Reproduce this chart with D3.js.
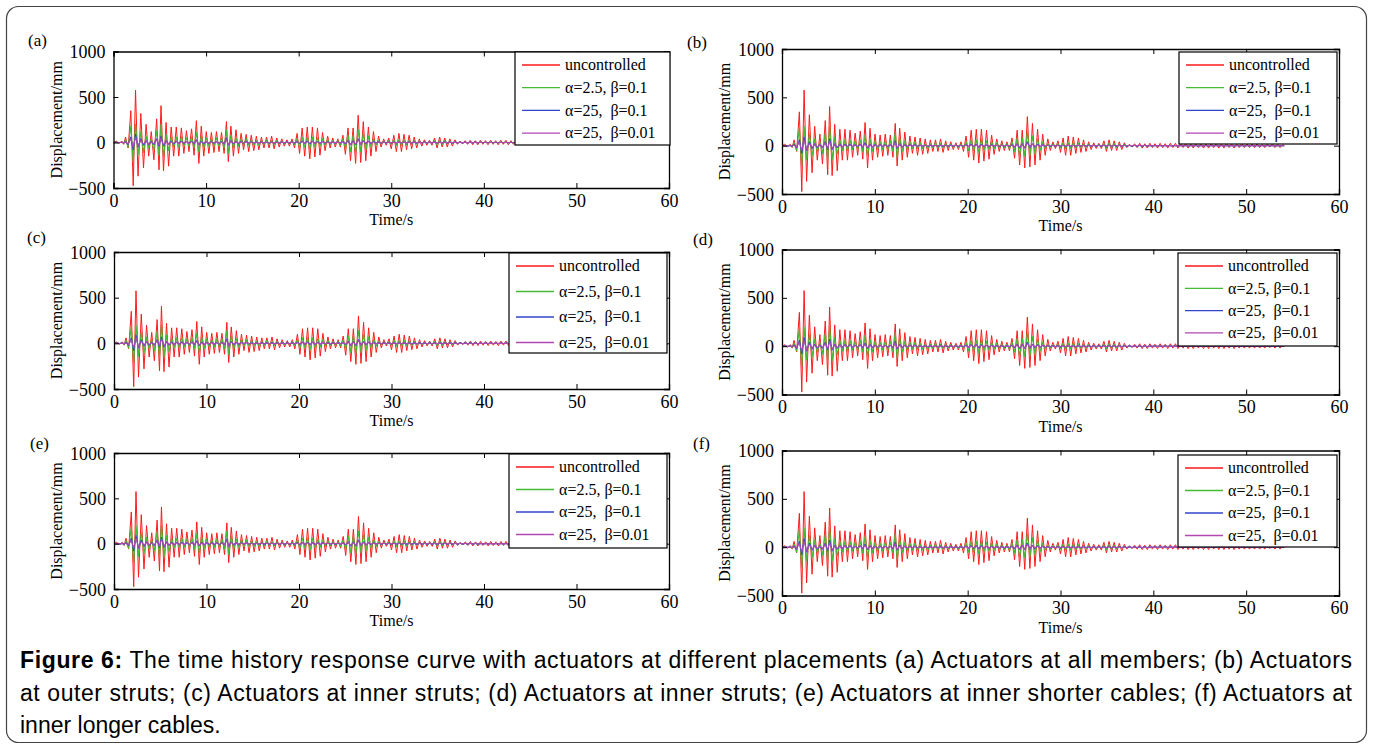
<!DOCTYPE html>
<html>
<head>
<meta charset="utf-8">
<script src="https://cdn.jsdelivr.net/npm/d3@7"></script>
<style>
  body { margin: 0; background: #fff; }
  svg { display: block; }
  text { font-family: "Liberation Serif", "Times New Roman", serif; fill: #000; }
  .caption { font-family: "Liberation Sans", Arial, sans-serif; font-size: 23px; }
</style>
</head>
<body>
<svg id="fig" width="1373" height="749"></svg>
<script>
// times of the successive peaks / troughs, seconds
const times = [
  0, 0.3, 0.6, 0.9, 1.1,
  1.30, 1.58, 1.87, 2.13, 2.38, 2.65, 2.95, 3.24, 3.52, 3.80,
  4.08, 4.36, 4.66, 4.92, 5.13, 5.40, 5.68, 5.95, 6.23, 6.50,
  6.78, 7.05, 7.33, 7.60, 7.88, 8.15, 8.43, 8.70, 8.95, 9.22,
  9.48, 9.75, 10.02, 10.30, 10.57, 10.85, 11.12, 11.40, 11.67, 11.95,
  12.20, 12.40, 12.68, 12.95, 13.23, 13.50, 13.78, 14.05, 14.33, 14.60,
  14.88, 15.15, 15.43, 15.70, 15.98, 16.25, 16.53, 16.80, 17.08, 17.35,
  17.63, 17.90, 18.18, 18.45, 18.73, 19.00, 19.28, 19.55, 19.83, 20.10,
  20.38, 20.65, 20.93, 21.20, 21.48, 21.75, 22.03, 22.30, 22.58, 22.85,
  23.13, 23.40, 23.68, 23.95, 24.23, 24.50, 24.78, 25.05, 25.33, 25.60,
  25.88, 26.15, 26.43, 26.70, 26.98, 27.25, 27.53, 27.80, 28.08, 28.35,
  28.63, 28.90, 29.18, 29.45, 29.73, 30.00, 30.28, 30.55, 30.83, 31.10,
  31.38, 31.65, 31.93, 32.20, 32.48, 32.75, 33.03, 33.30, 33.58, 33.85,
  34.13, 34.40, 34.68, 34.95, 35.23, 35.50, 35.78, 36.05, 36.33, 36.60,
  36.88, 37.15, 37.43, 37.70, 37.98, 38.25, 38.53, 38.80, 39.08, 39.35,
  39.63, 39.90, 40.18, 40.45, 40.73, 41.00, 41.28, 41.55, 41.83, 42.10,
  42.38, 42.65, 42.93, 43.20, 43.48, 43.75, 44.03, 44.30, 44.58, 44.85,
  45.13, 45.40, 45.68, 45.95, 46.23, 46.50, 46.78, 47.05, 47.33, 47.60,
  47.88, 48.15, 48.43, 48.70, 48.98, 49.25, 49.53, 49.80, 50.08, 50.35,
  50.63, 50.90, 51.18, 51.45, 51.73, 52.00, 52.28, 52.55, 52.83, 53.10,
  53.38, 53.65, 53.93, 54.10
];

// displacement (mm) at those times
const uncontrolled = [
  0, 15, -10, 15, -20,
  60, -60, 350, -475, 575, -370, 320, -280, 200, -150,
  120, -190, 260, -300, 405, -310, 220, -260, 170, -150,
  170, -150, 160, -120, 130, -100, 150, -140, 240, -230,
  180, -150, 120, -120, 110, -110, 120, -100, 110, -120,
  230, -210, 180, -150, 140, -120, 100, -80, 90, -100,
  80, -90, 70, -80, 60, -60, 60, -60, 70, -70,
  50, -50, 40, -40, 30, -40, 40, -60, 100, -120,
  160, -150, 170, -180, 170, -160, 160, -140, 110, -90,
  70, -60, 50, -50, 40, -50, 80, -130, 160, -200,
  160, -230, 300, -220, 230, -200, 170, -150, 120, -100,
  70, -50, 40, -30, 50, -70, 80, -100, 100, -100,
  90, -80, 80, -70, 60, -60, 40, -40, 30, -30,
  25, -30, 50, -60, 60, -50, 50, -50, 40, -40,
  30, -20, 15, -15, 20, -20, 25, -25, 20, -25,
  25, -20, 20, -25, 25, -20, 20, -25, 25, -20,
  25, -25, 20, -20, 25, -25, 20, -25, 25, -20,
  25, -25, 20, -25, 25, -20, 25, -25, 20, -25,
  25, -20, 20, -25, 20, -20, 25, -20, 20, -20,
  20, -20, 20, -20, 15, -20, 20, -15, 20, -20,
  15, -20, 10, 0
];

const alpha2_5beta0_1 = [
  0, 5, -5, 5, -10,
  30, -50, 180, -210, 200, -140, 120, -110, 70, -60,
  40, -80, 130, -140, 200, -150, 90, -90, 60, -50,
  60, -50, 60, -40, 50, -40, 60, -60, 110, -100,
  70, -60, 50, -40, 40, -40, 50, -40, 50, -60,
  140, -120, 80, -60, 50, -40, 40, -30, 40, -30,
  30, -30, 20, -30, 20, -20, 30, -20, 20, -20,
  20, -15, 15, -15, 10, -15, 15, -20, 40, -50,
  60, -50, 60, -70, 60, -50, 50, -40, 40, -30,
  30, -20, 20, -20, 20, -30, 40, -60, 80, -100,
  80, -110, 140, -100, 100, -80, 70, -50, 40, -30,
  20, -15, 15, -10, 20, -20, 30, -30, 30, -30,
  30, -25, 25, -20, 20, -15, 15, -10, 10, -10,
  10, -10, 20, -25, 25, -20, 20, -15, 15, -10,
  10, -5, 5, -5, 5, -5, 5, -5, 5, -5,
  4, -4, 4, -4, 4, -4, 4, -4, 4, -4,
  4, -4, 4, -4, 4, -4, 4, -4, 4, -4,
  4, -4, 4, -4, 4, -4, 4, -4, 4, -4,
  4, -4, 4, -4, 4, -4, 4, -4, 4, -4,
  4, -4, 4, -4, 4, -4, 4, -4, 4, -4,
  3, -3, 2, 0
];

const alpha25beta0_1 = [
  0, 2, -2, 2, -5,
  10, -20, 60, -80, 90, -50, 40, -30, 20, -20,
  10, -20, 40, -40, 70, -40, 20, -20, 15, -15,
  15, -10, 15, -10, 10, -10, 15, -15, 30, -25,
  15, -15, 10, -10, 10, -10, 10, -10, 10, -15,
  50, -30, 20, -15, 10, -10, 10, -5, 10, -5,
  5, -5, 5, -5, 5, -5, 5, -5, 5, -5,
  5, -5, 5, -5, 5, -5, 5, -5, 10, -10,
  15, -10, 15, -15, 15, -10, 10, -10, 10, -5,
  5, -5, 5, -5, 5, -5, 10, -15, 20, -25,
  20, -25, 40, -20, 20, -15, 15, -10, 10, -5,
  5, -5, 5, -5, 5, -5, 5, -5, 5, -5,
  5, -5, 5, -5, 5, -5, 5, -5, 5, -5,
  5, -5, 5, -5, 5, -5, 5, -5, 5, -5,
  5, -5, 5, -5, 5, -5, 5, -5, 5, -5,
  2, -2, 2, -2, 2, -2, 2, -2, 2, -2,
  2, -2, 2, -2, 2, -2, 2, -2, 2, -2,
  2, -2, 2, -2, 2, -2, 2, -2, 2, -2,
  2, -2, 2, -2, 2, -2, 2, -2, 2, -2,
  2, -2, 2, -2, 2, -2, 2, -2, 2, -2,
  2, -2, 1, 0
];

const alpha25beta0_01 = [
  0, 2, -2, 2, -3,
  5, -15, 40, -50, 60, -40, 25, -20, 15, -15,
  10, -15, 30, -30, 50, -30, 15, -15, 10, -10,
  10, -10, 10, -10, 10, -10, 10, -10, 20, -20,
  10, -10, 8, -8, 8, -8, 8, -8, 8, -10,
  35, -25, 15, -10, 8, -8, 8, -5, 8, -5,
  4, -4, 4, -4, 4, -4, 4, -4, 4, -4,
  4, -4, 4, -4, 4, -4, 4, -4, 8, -8,
  10, -8, 10, -10, 10, -8, 8, -8, 8, -4,
  4, -4, 4, -4, 4, -4, 8, -10, 15, -20,
  15, -20, 30, -15, 15, -10, 10, -8, 8, -4,
  4, -4, 4, -4, 4, -4, 4, -4, 4, -4,
  4, -4, 4, -4, 4, -4, 4, -4, 4, -4,
  4, -4, 4, -4, 4, -4, 4, -4, 4, -4,
  4, -4, 4, -4, 4, -4, 4, -4, 4, -4,
  2, -2, 2, -2, 2, -2, 2, -2, 2, -2,
  2, -2, 2, -2, 2, -2, 2, -2, 2, -2,
  2, -2, 2, -2, 2, -2, 2, -2, 2, -2,
  2, -2, 2, -2, 2, -2, 2, -2, 2, -2,
  2, -2, 2, -2, 2, -2, 2, -2, 2, -2,
  2, -2, 1, 0
];

const seriesNames = ["uncontrolled", "\u03b1=2.5, \u03b2=0.1", "\u03b1=25,  \u03b2=0.1", "\u03b1=25,  \u03b2=0.01"];
const seriesValues = [uncontrolled, alpha2_5beta0_1, alpha25beta0_1, alpha25beta0_01];
const seriesColors = ["#ff1a1a", "#44bb33", "#3344cc", "#b048b0"];

const panelLabels = ["(a)", "(b)", "(c)", "(d)", "(e)", "(f)"];
const xTicks = [0, 10, 20, 30, 40, 50, 60];
const yTicks = [-500, 0, 500, 1000];
const xLabel = "Time/s";
const yLabel = "Displacement/mm";

const captionLines = [
  ["Figure 6:", " The time history response curve with actuators at different placements (a) Actuators at all members; (b) Actuators"],
  ["", "at outer struts; (c) Actuators at inner struts; (d) Actuators at inner struts; (e) Actuators at inner shorter cables; (f) Actuators at"],
  ["", "inner longer cables."]
];

// layout of the six axes (pixels)
const panels = [
  { left: 113.5, top: 51.5,  w: 555.5, h: 136.5, lab: [28, 46],  leg: { x: 515,  y: 52,  w: 155, h: 93,  dy: 22.7 } },
  { left: 782,   top: 49,    w: 557,   h: 145,   lab: [687, 48], leg: { x: 1179, y: 52,  w: 158, h: 92,  dy: 22.7 } },
  { left: 114,   top: 252,   w: 555,   h: 137,   lab: [27, 243], leg: { x: 509,  y: 253, w: 158, h: 100, dy: 25.5 } },
  { left: 782,   top: 249.5, w: 557,   h: 145,   lab: [693, 245],leg: { x: 1178, y: 253, w: 159, h: 93,  dy: 22.3 } },
  { left: 114,   top: 453,   w: 555,   h: 136,   lab: [30, 449], leg: { x: 509,  y: 454, w: 158, h: 94,  dy: 22.5 } },
  { left: 782,   top: 450.5, w: 557,   h: 145,   lab: [693, 449],leg: { x: 1178, y: 455, w: 159, h: 92,  dy: 22.5 } }
];

const svg = d3.select("#fig");

// outer frame
svg.append("rect")
  .attr("x", 6.5).attr("y", 6.5)
  .attr("width", 1360).attr("height", 736)
  .attr("rx", 12)
  .attr("fill", "none")
  .attr("stroke", "#444")
  .attr("stroke-width", 1.2);

panels.forEach((p, pi) => {
  const x = d3.scaleLinear().domain([0, 60]).range([p.left, p.left + p.w]);
  const y = d3.scaleLinear().domain([-500, 1000]).range([p.top + p.h, p.top]);
  const g = svg.append("g");

  const clipId = "clip" + pi;
  svg.append("clipPath").attr("id", clipId)
    .append("rect").attr("x", p.left).attr("y", p.top).attr("width", p.w).attr("height", p.h);

  const line = d3.line().x(d => x(d[0])).y(d => y(d[1]));

  const lines = g.append("g").attr("clip-path", `url(#${clipId})`);
  seriesValues.forEach((vals, si) => {
    const pts = times.map((t, i) => [t, vals[i]]).filter(d => d[1] !== undefined);
    lines.append("path")
      .datum(pts)
      .attr("d", line)
      .attr("fill", "none")
      .attr("stroke", seriesColors[si])
      .attr("stroke-width", si === 0 ? 1 : 1.1)
      .attr("stroke-linejoin", "round");
  });

  // axes: inward ticks all round (MATLAB box)
  const bottom = d3.axisBottom(x).tickValues(xTicks).tickSize(-5).tickPadding(6).tickFormat(d3.format("d"));
  const top = d3.axisTop(x).tickValues(xTicks).tickSize(-5).tickFormat("");
  const leftAx = d3.axisLeft(y).tickValues(yTicks).tickSize(-5).tickPadding(8).tickFormat(d3.format("d"));
  const rightAx = d3.axisRight(y).tickValues(yTicks).tickSize(-5).tickFormat("");

  const axB = g.append("g").attr("transform", `translate(0,${p.top + p.h})`).call(bottom);
  const axT = g.append("g").attr("transform", `translate(0,${p.top})`).call(top);
  const axL = g.append("g").attr("transform", `translate(${p.left},0)`).call(leftAx);
  const axR = g.append("g").attr("transform", `translate(${p.left + p.w},0)`).call(rightAx);
  [axB, axT, axL, axR].forEach(a => {
    a.select(".domain").attr("stroke", "#000").attr("stroke-width", 1.3);
    a.selectAll(".tick line").attr("stroke", "#000");
    a.selectAll("text")
      .attr("font-family", "Liberation Serif, Times New Roman, serif")
      .attr("font-size", 18)
      .attr("fill", "#000");
  });
  axL.selectAll(".tick text").attr("dy", "0.34em");
  axB.selectAll(".tick text").attr("dy", "0.7em");

  // axis titles
  g.append("text")
    .attr("x", p.left + p.w / 2)
    .attr("y", p.top + p.h + 37)
    .attr("text-anchor", "middle")
    .attr("font-size", 16)
    .text(xLabel);
  g.append("text")
    .attr("transform", `translate(${p.left - 52},${p.top + p.h / 2}) rotate(-90)`)
    .attr("text-anchor", "middle")
    .attr("font-size", 16)
    .text(yLabel);

  // panel tag
  g.append("text")
    .attr("x", p.lab[0]).attr("y", p.lab[1])
    .attr("font-size", 17)
    .text(panelLabels[pi]);

  // legend
  const L = p.leg;
  const lg = g.append("g").attr("transform", `translate(${L.x},${L.y})`);
  lg.append("rect")
    .attr("width", L.w).attr("height", L.h)
    .attr("fill", "#fff")
    .attr("stroke", "#000")
    .attr("stroke-width", 1.2);
  seriesNames.forEach((name, si) => {
    const yy = 13 + si * L.dy;
    lg.append("line")
      .attr("x1", 7).attr("x2", 45)
      .attr("y1", yy).attr("y2", yy)
      .attr("stroke", seriesColors[si])
      .attr("stroke-width", 1.3);
    lg.append("text")
      .attr("x", 50).attr("y", yy)
      .attr("dy", "0.33em")
      .attr("font-size", 16)
      .style("white-space", "pre")
      .text(name);
  });
});

// caption
const capY = [668, 701, 733];
captionLines.forEach((ln, i) => {
  const t = svg.append("text")
    .attr("class", "caption")
    .attr("x", 20)
    .attr("y", capY[i])
    .attr("xml:space", "preserve");
  if (i < 2) t.attr("textLength", 1332).attr("lengthAdjust", "spacing");
  if (ln[0]) t.append("tspan").attr("font-weight", "bold").text(ln[0]);
  t.append("tspan").text(ln[1]);
});
</script>
</body>
</html>
